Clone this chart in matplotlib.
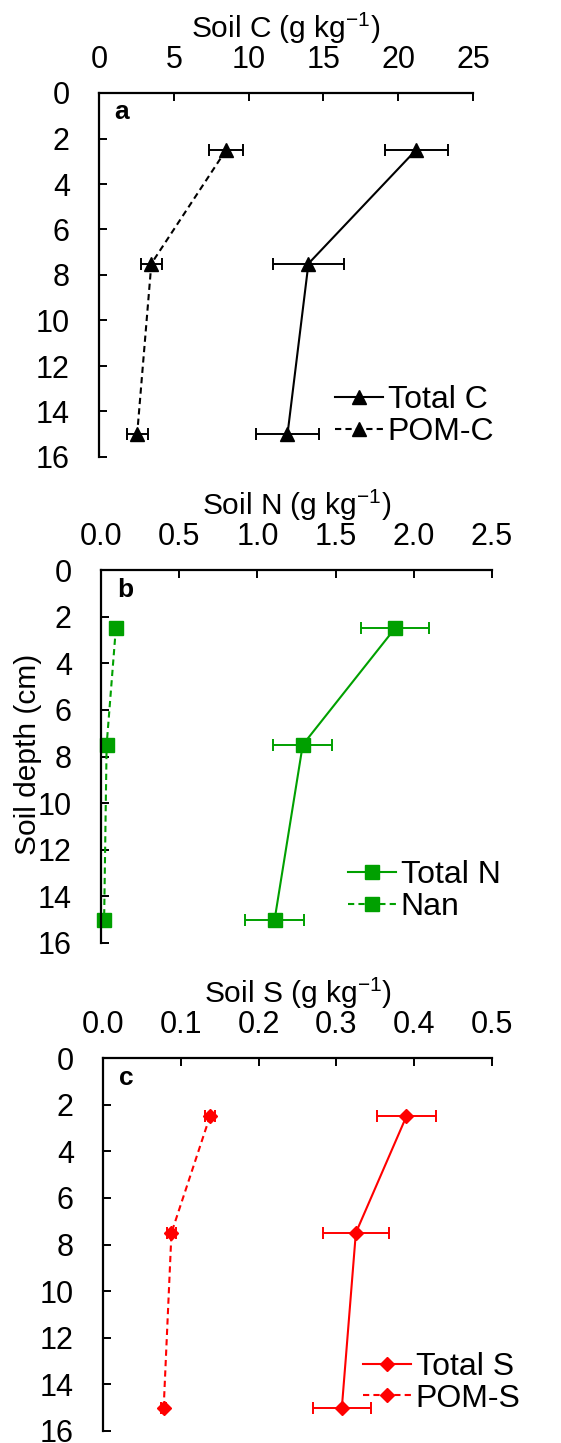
import matplotlib
matplotlib.use('Agg')
import matplotlib.pyplot as plt

plt.rcParams['font.family'] = ['Liberation Sans', 'DejaVu Sans']
plt.rcParams['mathtext.fontset'] = 'custom'
plt.rcParams['mathtext.rm'] = 'Liberation Sans'
plt.rcParams['mathtext.it'] = 'Liberation Sans:italic'
plt.rcParams['mathtext.bf'] = 'Liberation Sans:bold'

# ---- data ----
depth = [2.5, 7.5, 15]
y_ticks = [0, 2, 4, 6, 8, 10, 12, 14, 16]

total_c = [21.2, 14.0, 12.6]
total_c_err = [2.1, 2.35, 2.1]
pom_c = [8.5, 3.5, 2.55]
pom_c_err = [1.15, 0.7, 0.7]
c_ticks = [0, 5, 10, 15, 20, 25]
c_ticklabels = ['0', '5', '10', '15', '20', '25']

total_n = [1.88, 1.29, 1.11]
total_n_err = [0.22, 0.19, 0.19]
nan_n = [0.095, 0.036, 0.02]
nan_n_err = [0.04, 0.02, 0.01]
n_ticks = [0.0, 0.5, 1.0, 1.5, 2.0, 2.5]
n_ticklabels = ['0.0', '0.5', '1.0', '1.5', '2.0', '2.5']

total_s = [0.39, 0.325, 0.307]
total_s_err = [0.038, 0.042, 0.037]
pom_s = [0.1375, 0.088, 0.078]
pom_s_err = [0.007, 0.006, 0.003]
s_ticks = [0.0, 0.1, 0.2, 0.3, 0.4, 0.5]
s_ticklabels = ['0.0', '0.1', '0.2', '0.3', '0.4', '0.5']

W, H = 561, 1443
fig = plt.figure(figsize=(W / 100, H / 100), dpi=100)

def px_axes(left, right, top, bottom):
    return fig.add_axes([left / W, 1 - bottom / H, (right - left) / W, (bottom - top) / H])

TICK_FS = 22
LABEL_FS = 21.5
LEG_FS = 23
dash = (0, (3, 2))

def panel(ax, xs1, e1, xs2, e2, color, marker, ms, names, xlabel, ticks, ticklabels, letter, leg_xy):
    ax.set_xlim(ticks[0], ticks[-1])
    ax.set_ylim(16, 0)
    for side in ['right', 'bottom']:
        ax.spines[side].set_visible(False)
    for side in ['top', 'left']:
        ax.spines[side].set_linewidth(1.6)
    ax.xaxis.set_ticks_position('top')
    ax.xaxis.set_label_position('top')
    ax.set_xticks(ticks)
    ax.set_xticklabels(ticklabels)
    ax.set_yticks(y_ticks)
    ax.tick_params(axis='both', direction='in', length=6, width=1.4, labelsize=TICK_FS)
    ax.tick_params(axis='x', pad=13)
    ax.tick_params(axis='y', pad=21)
    ax.set_xlabel(xlabel, fontsize=LABEL_FS, labelpad=5)

    ax.errorbar(xs1, depth, xerr=e1, fmt='none', ecolor=color, elinewidth=1.4,
                capsize=4, capthick=1.4, clip_on=False)
    ax.errorbar(xs2, depth, xerr=e2, fmt='none', ecolor=color, elinewidth=1.4,
                capsize=4, capthick=1.4, clip_on=False)
    l1, = ax.plot(xs1, depth, color=color, lw=1.5, marker=marker, ms=ms,
                  mfc=color, mec=color, clip_on=False)
    l2, = ax.plot(xs2, depth, color=color, lw=1.5, ls=dash, marker=marker, ms=ms,
                  mfc=color, mec=color, clip_on=False)
    ax.text(0.042, 0.947, letter, transform=ax.transAxes, fontsize=19,
            fontweight='bold', ha='left', va='center')
    leg = ax.legend([l1, l2], names, loc='upper left', bbox_to_anchor=leg_xy,
                    frameon=False, fontsize=LEG_FS, handlelength=1.5,
                    handletextpad=0.15, borderpad=0, borderaxespad=0,
                    labelspacing=0.05)
    return leg

ax_a = px_axes(99, 473, 93, 457)
panel(ax_a, total_c, total_c_err, pom_c, pom_c_err, 'black', '^', 10,
      ['Total C', 'POM-C'], 'Soil C (g kg$^{-1}$)', c_ticks, c_ticklabels, 'a',
      (0.631, 0.197))

ax_b = px_axes(101, 492, 570, 943)
panel(ax_b, total_n, total_n_err, nan_n, nan_n_err, '#00a000', 's', 10.5,
      ['Total N', 'Nan'], 'Soil N (g kg$^{-1}$)', n_ticks, n_ticklabels, 'b',
      (0.632, 0.222))

ax_c = px_axes(103, 492, 1058, 1431)
panel(ax_c, total_s, total_s_err, pom_s, pom_s_err, '#ff0000', 'D', 7,
      ['Total S', 'POM-S'], 'Soil S (g kg$^{-1}$)', s_ticks, s_ticklabels, 'c',
      (0.668, 0.212))

fig.text(28 / W, 1 - 754 / H, 'Soil depth (cm)', rotation=90, fontsize=LABEL_FS,
         ha='center', va='center')

fig.savefig('out.png', dpi=100)
